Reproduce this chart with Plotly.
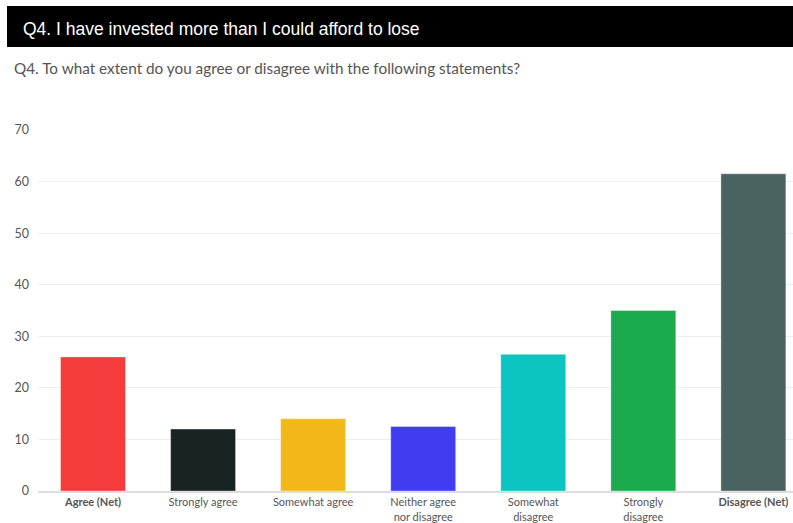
import plotly.graph_objects as go

categories = ["<b>Agree (Net)</b>", "Strongly agree", "Somewhat agree",
              "Neither agree<br>nor disagree", "Somewhat<br>disagree",
              "Strongly<br>disagree", "<b>Disagree (Net)</b>"]
values = [26.0, 12.0, 14.0, 12.5, 26.5, 35.0, 61.5]
colors = ["#F43C3D", "#182324", "#F2B817", "#403CF0", "#0CC4C0", "#1BAA4E", "#4B6360"]
title_text = "Q4. I have invested more than I could afford to lose"
subtitle_text = "Q4. To what extent do you agree or disagree with the following statements?"
y_ticks = [0, 10, 20, 30, 40, 50, 60, 70]

W, H = 793, 523
L, R, T, B = 38, 0, 130, 32
pw, ph = W - L - R, H - T - B

def px(x):
    return (x - L) / pw

def py(y):
    return (H - B - y) / ph

fig = go.Figure()
fig.add_trace(go.Bar(
    x=list(range(len(categories))),
    y=values,
    marker=dict(color=colors, line=dict(color="rgba(255,255,255,0.35)", width=1)),
    width=0.59,
    hoverinfo="skip",
))

fig.add_shape(type="rect", xref="paper", yref="paper",
              x0=px(7), x1=px(793), y0=py(47), y1=py(6),
              fillcolor="#000000", line=dict(width=0), layer="above")
fig.add_annotation(xref="paper", yref="paper", x=px(21), y=py(29),
                   xanchor="left", yanchor="middle", showarrow=False,
                   text=title_text,
                   font=dict(family="Liberation Sans Narrow, Arial Narrow, Liberation Sans", size=17.5, color="#FFFFFF"))
fig.add_annotation(xref="paper", yref="paper", x=px(12), y=py(68),
                   xanchor="left", yanchor="middle", showarrow=False,
                   text=subtitle_text,
                   font=dict(family="Lato, Open Sans, sans-serif", size=15.3, color="#555555"))

fig.update_layout(
    width=W, height=H,
    margin=dict(l=L, r=R, t=T, b=B, pad=0),
    plot_bgcolor="#FFFFFF", paper_bgcolor="#FFFFFF",
    showlegend=False,
    font=dict(family="Lato, Open Sans, sans-serif", size=11, color="#555555"),
    bargap=0.41,
)
fig.update_xaxes(
    range=[-0.5, 6.36],
    tickmode="array", tickvals=list(range(len(categories))), ticktext=categories,
    showgrid=False, showline=True, linecolor="#DDDDDD", linewidth=2,
    ticks="", tickfont=dict(size=11, color="#555555"),
    fixedrange=True,
)
fig.update_yaxes(
    range=[0, 70], tickvals=y_ticks,
    showgrid=True, gridcolor="#EEEEEE", gridwidth=1,
    zeroline=False, showline=False, ticks="",
    ticklabelstandoff=8,
    tickfont=dict(size=12.5, color="#555555"),
    fixedrange=True,
)

fig.write_html("out.html")
